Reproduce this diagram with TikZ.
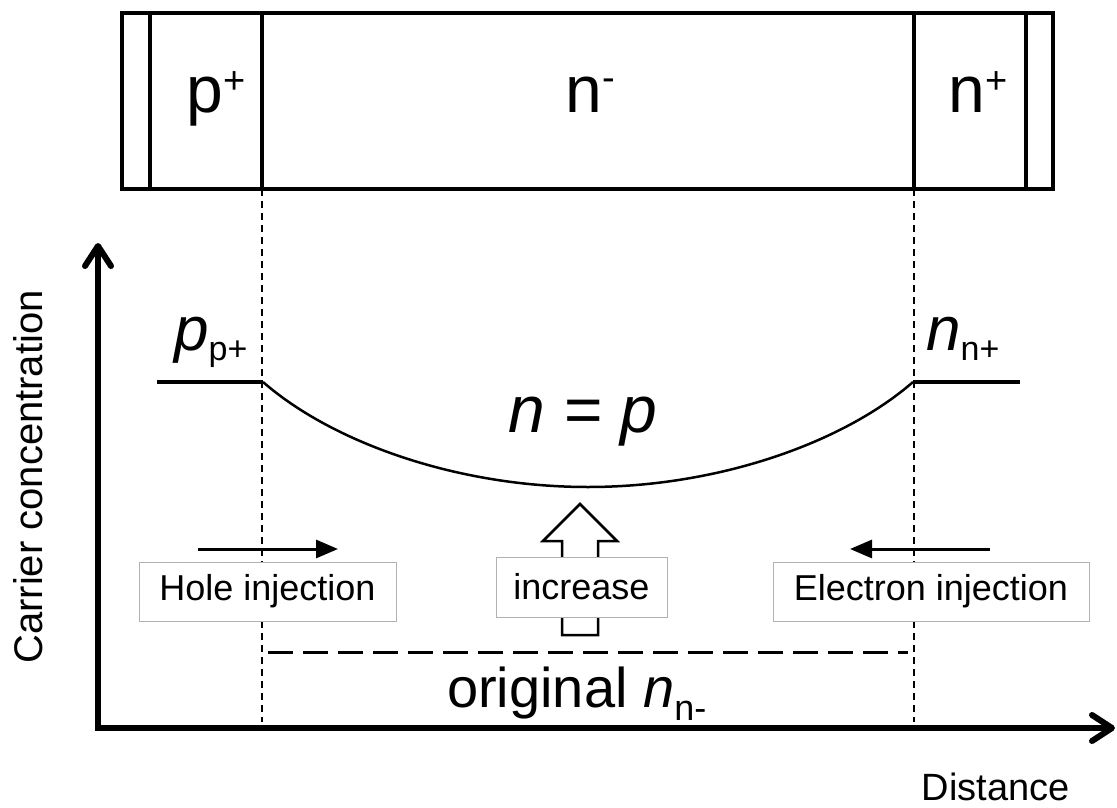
\documentclass[tikz,border=0pt]{standalone}
\usepackage{fontspec}
\setmainfont{Liberation Sans}
\usetikzlibrary{arrows.meta}

\begin{document}
\begin{tikzpicture}[x=1pt, y=-1pt,
    region/.style={font=\fontsize{66}{66}\selectfont, inner sep=0pt, anchor=base},
    level/.style={font=\fontsize{62}{62}\selectfont\itshape, inner sep=0pt, anchor=base west},
    tag/.style={draw=black!30, fill=white, line width=1pt, font=\fontsize{36}{36}\selectfont, inner sep=0pt},
    axislabel/.style={font=\fontsize{38}{38}\selectfont, inner sep=0pt}]
    \useasboundingbox (0,0) rectangle (1117,808);

    % device cross-section
    \draw[line width=4pt] (122,13) rectangle (1053,189);
    \foreach \xb in {150,262,914,1026}
        \draw[line width=3.5pt] (\xb,13) -- (\xb,189);
    \node[region] (pplus) at (216,113) {p\raisebox{20pt}{\fontsize{38}{38}\selectfont+}};
    \node[region] (nminus) at (590,113) {n\raisebox{22pt}{\fontsize{38}{38}\selectfont-}};
    \node[region] (nplus) at (978,113) {n\raisebox{20pt}{\fontsize{38}{38}\selectfont+}};

    % junction guides
    \draw[line width=1.8pt, dash pattern=on 7pt off 5pt] (262,189) -- (262,722);
    \draw[line width=1.8pt, dash pattern=on 7pt off 5pt] (914,189) -- (914,722);

    % axes
    \coordinate (O) at (98,728);
    \coordinate (ytip) at (98,243);
    \coordinate (xtip) at (1115,728);
    \draw[line width=6pt, {Straight Barb[length=20pt,width=26pt,round]}-{Straight Barb[length=20pt,width=26pt,round]}] (ytip) -- (O) -- (xtip);
    \node[axislabel, font=\fontsize{40}{40}\selectfont, rotate=90] (ylab) at (28,477) {Carrier concentration};
    \node[axislabel, anchor=base east] (xlab) at (1070,800) {Distance};

    % carrier profile
    \draw[line width=4pt] (157,382) -- (263,382);
    \draw[line width=4pt] (913,382) -- (1020,382);
    \draw[line width=2.5pt] (263,382) .. controls (333,443) and (458,487) .. (588,487)
        .. controls (718,487) and (843,443) .. (913,382);
    \node[level] (pp) at (174,350) {p\raisebox{-10pt}{\fontsize{34}{34}\selectfont\upshape p+}};
    \node[level] (nn) at (926,350) {n\raisebox{-10pt}{\fontsize{34}{34}\selectfont\upshape n+}};
    \node[level, font=\fontsize{66}{66}\selectfont\itshape, anchor=base] (np) at (583,432) {n = p};

    % original level
    \draw[line width=3pt, dash pattern=on 25pt off 10pt] (268,652) -- (908,652);
    \node[font=\fontsize{56}{56}\selectfont, inner sep=0pt, anchor=base west] (orig) at (447,707)
        {original \textit{n}\raisebox{-13pt}{\fontsize{36}{36}\selectfont n-}};

    % injection and increase
    \draw[line width=3pt, -{Triangle[length=22pt,width=18pt]}] (198,549) -- (338,549);
    \draw[line width=3pt, -{Triangle[length=22pt,width=18pt]}] (990,549) -- (850,549);
    \draw[line width=2.5pt, fill=white] (562,635) -- (562,541) -- (543,541) -- (580,504)
        -- (617,541) -- (598,541) -- (598,635) -- cycle;
    \node[tag, minimum width=257pt, minimum height=59pt] (hole) at (267.5,591.5) {Hole injection};
    \node[tag, minimum width=171pt, minimum height=60pt] (incr) at (581.5,587) {increase};
    \node[tag, minimum width=316pt, minimum height=59pt] (elec) at (931,591.5) {Electron injection};
\end{tikzpicture}
\end{document}
